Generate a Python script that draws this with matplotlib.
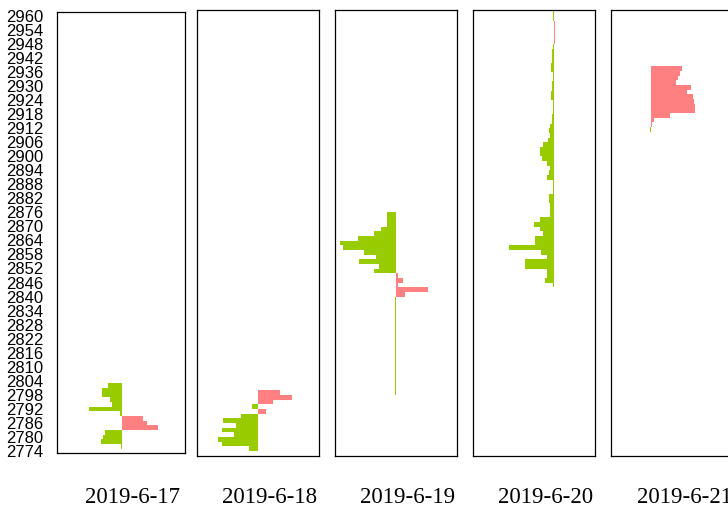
import numpy as np
import matplotlib
matplotlib.use('Agg')
import matplotlib.pyplot as plt

# price levels (bin bottoms, 2 points per bin) and net volume per bin
# negative = green (left), positive = pink (right)
dates = ['2019-6-17', '2019-6-18', '2019-6-19', '2019-6-20', '2019-6-21']

d1_start = 2774.5
d1_vol = [-0.8, -20.7, -19, -16.4, 36, 25.3, 21.3, -1.7, -32.7, -10, -12, -19.7, -19.7, -13.7]

d2_start = 2773.5
d2_vol = [-9, -36, -40, -24, -36, -22, -35, -17, 8, -6, 14.7, 34, 22]

d3_start = 2797.5
d3_vol = [-1] * 21 + [9, 31.7, 2, 7, 2, -22, -17, -37, -20, -32, -53, -55.7, -38,
                      -21.7, -15, -9, -9, -9]

d4_start = 2843.5
d4_vol = [-1.7, -9.3, -7.3, -7.3, -29.3, -29.3, -7.3, -13.3, -45.3, -19.3,
          -19.3, -11.3, -14.3, -20.3, -14.3, -4.3, -4.3, -4.3, -5.3, -5.3,
          -1, -1, -1, -7.3, -5.7, -4.3, -7.3, -12.3, -14.3, -14.3,
          -11.3, -6.3, -4.3, -5.3, -4.3, -2.7, -2.3, -1, -1, -1.7,
          -3.7, -3.7, -2.7, -2, -1.7, -1.7, -3.7, -3.7, -2, -2,
          -2, -1, 1, 1, 1, 1, 1, -1.3, -1.3, -1.3]

d5_start = 2910
d5_vol = [-1, 1, 3, 19, 44, 44, 43.3, 41.7, 36, 39.7, 25, 27.3, 29.3, 31.3]

yticks = np.arange(2774, 2961, 6)

starts = [d1_start, d2_start, d3_start, d4_start, d5_start]
vols = [d1_vol, d2_vol, d3_vol, d4_vol, d5_vol]

# panel boxes in pixels: left, right, top, bottom ; x limits around zero
boxes = [(57, 185, 13, 454), (197, 319, 11, 457), (335, 457, 11, 457),
         (473, 595, 11, 457), (611, 733, 11, 457)]
centers = [121.7, 258, 396, 554.3, 651]

W, H = 728, 510
fig = plt.figure(figsize=(W / 100, H / 100), dpi=100)

def ypix_to_price(y):
    return 2774 + (451 - y) / 2.34

green = '#99cc00'
pink = '#ff8080'

for i in range(5):
    l, r, t, b = boxes[i]
    ax = fig.add_axes([l / W, 1 - b / H, (r - l) / W, (b - t) / H])
    v = np.array(vols[i], dtype=float)
    p = starts[i] + 2 * np.arange(len(v))
    cols = [green if x < 0 else pink for x in v]
    ax.barh(p, v, height=2, align='edge', color=cols, linewidth=0)
    ax.set_xlim(l - centers[i], r - centers[i])
    ax.set_ylim(ypix_to_price(b), ypix_to_price(t))
    ax.set_xticks([])
    if i == 0:
        ax.set_yticks(yticks)
        ax.set_yticklabels([str(y) for y in yticks], fontsize=12, family='Liberation Sans')
        ax.tick_params(axis='y', length=0, pad=10)
    else:
        ax.set_yticks([])
    for s in ax.spines.values():
        s.set_linewidth(0.9)
        s.set_color('black')
    cx = (l + r) / 2 + 12
    fig.text(cx / W, 1 - 498 / H, dates[i], ha='center', va='center',
             fontsize=16.5, family='Liberation Serif')

plt.savefig('out.png', dpi=100)
